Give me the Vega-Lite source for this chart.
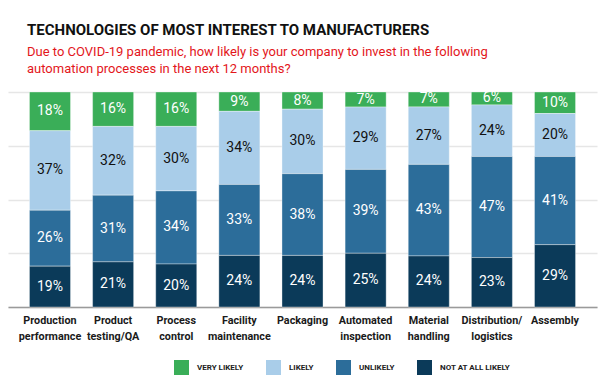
{
  "$schema": "https://vega.github.io/schema/vega-lite/v6.json",
  "autosize": {"type": "none"},
  "width": 589,
  "height": 215,
  "padding": {"left": 8, "top": 92, "right": 3, "bottom": 77},
  "background": "white",
  "title": {
    "text": "TECHNOLOGIES OF MOST INTEREST TO MANUFACTURERS",
    "subtitle": ["Due to COVID-19 pandemic, how likely is your company to invest in the following", "automation processes in the next 12 months?"],
    "anchor": "start",
    "frame": "group",
    "dx": 19,
    "offset": 15,
    "font": "Roboto",
    "fontSize": 15,
    "fontWeight": "bold",
    "color": "#111111",
    "subtitleFont": "Roboto",
    "subtitleFontSize": 13,
    "subtitleColor": "#e3161b",
    "subtitlePadding": 8,
    "subtitleLineHeight": 17
  },
  "data": {
    "values": [
      {"tech": "Production performance", "level": "Very likely", "pct": 18},
      {"tech": "Production performance", "level": "Likely", "pct": 37},
      {"tech": "Production performance", "level": "Unlikely", "pct": 26},
      {"tech": "Production performance", "level": "Not at all likely", "pct": 19},
      {"tech": "Product testing/QA", "level": "Very likely", "pct": 16},
      {"tech": "Product testing/QA", "level": "Likely", "pct": 32},
      {"tech": "Product testing/QA", "level": "Unlikely", "pct": 31},
      {"tech": "Product testing/QA", "level": "Not at all likely", "pct": 21},
      {"tech": "Process control", "level": "Very likely", "pct": 16},
      {"tech": "Process control", "level": "Likely", "pct": 30},
      {"tech": "Process control", "level": "Unlikely", "pct": 34},
      {"tech": "Process control", "level": "Not at all likely", "pct": 20},
      {"tech": "Facility maintenance", "level": "Very likely", "pct": 9},
      {"tech": "Facility maintenance", "level": "Likely", "pct": 34},
      {"tech": "Facility maintenance", "level": "Unlikely", "pct": 33},
      {"tech": "Facility maintenance", "level": "Not at all likely", "pct": 24},
      {"tech": "Packaging", "level": "Very likely", "pct": 8},
      {"tech": "Packaging", "level": "Likely", "pct": 30},
      {"tech": "Packaging", "level": "Unlikely", "pct": 38},
      {"tech": "Packaging", "level": "Not at all likely", "pct": 24},
      {"tech": "Automated inspection", "level": "Very likely", "pct": 7},
      {"tech": "Automated inspection", "level": "Likely", "pct": 29},
      {"tech": "Automated inspection", "level": "Unlikely", "pct": 39},
      {"tech": "Automated inspection", "level": "Not at all likely", "pct": 25},
      {"tech": "Material handling", "level": "Very likely", "pct": 7},
      {"tech": "Material handling", "level": "Likely", "pct": 27},
      {"tech": "Material handling", "level": "Unlikely", "pct": 43},
      {"tech": "Material handling", "level": "Not at all likely", "pct": 24},
      {"tech": "Distribution/ logistics", "level": "Very likely", "pct": 6},
      {"tech": "Distribution/ logistics", "level": "Likely", "pct": 24},
      {"tech": "Distribution/ logistics", "level": "Unlikely", "pct": 47},
      {"tech": "Distribution/ logistics", "level": "Not at all likely", "pct": 23},
      {"tech": "Assembly", "level": "Very likely", "pct": 10},
      {"tech": "Assembly", "level": "Likely", "pct": 20},
      {"tech": "Assembly", "level": "Unlikely", "pct": 41},
      {"tech": "Assembly", "level": "Not at all likely", "pct": 29}
    ]
  },
  "transform": [
    {"calculate": "indexof(['Not at all likely','Unlikely','Likely','Very likely'], datum.level)", "as": "ord"},
    {"calculate": "datum.pct + '%'", "as": "label"}
  ],
  "encoding": {
    "x": {
      "field": "tech",
      "type": "nominal",
      "sort": null,
      "title": null,
      "scale": {"paddingInner": 0.35, "paddingOuter": 0.34},
      "axis": {
        "labelAngle": 0,
        "labelExpr": "split(datum.label, ' ')",
        "labelFont": "Roboto",
        "labelFontSize": 10.8,
        "labelFontWeight": "bold",
        "labelColor": "#1a1a1a",
        "labelLineHeight": 16,
        "labelPadding": 7,
        "ticks": false,
        "domainColor": "#9a9a9a",
        "domainWidth": 1.5,
        "labelLimit": 200
      }
    },
    "y": {
      "field": "pct",
      "type": "quantitative",
      "stack": "normalize",
      "title": null,
      "scale": {"domain": [0, 1]},
      "axis": {
        "values": [0, 0.25, 0.5, 0.75, 1],
        "labels": false,
        "ticks": false,
        "domain": false,
        "gridColor": "#e6e6e6",
        "gridWidth": 1.5
      }
    },
    "order": {"field": "ord", "type": "quantitative"}
  },
  "layer": [
    {
      "mark": {"type": "bar", "stroke": "white", "strokeWidth": 0.6, "strokeOpacity": 0.6},
      "encoding": {
        "color": {
          "field": "level",
          "type": "nominal",
          "sort": ["Very likely", "Likely", "Unlikely", "Not at all likely"],
          "scale": {
            "domain": ["Very likely", "Likely", "Unlikely", "Not at all likely"],
            "range": ["#3aae58", "#a9cde9", "#2c6d9a", "#0b3a59"]
          },
          "legend": {
            "title": null,
            "orient": "none",
            "direction": "horizontal",
            "legendX": 166,
            "legendY": 268,
            "symbolType": "square",
            "symbolSize": 225,
            "symbolStrokeWidth": 0,
            "labelExpr": "upper(datum.label)",
            "labelFont": "Roboto",
            "labelFontSize": 8,
            "labelFontWeight": "bold",
            "labelColor": "#222222",
            "labelOffset": 8,
            "columnPadding": 22,
            "encode": {"labels": {"update": {"letterSpacing": {"value": 1.3}}}}
          }
        }
      }
    },
    {
      "mark": {"type": "text", "font": "Roboto", "fontSize": 14, "baseline": "middle"},
      "encoding": {
        "y": {"field": "pct", "type": "quantitative", "stack": "normalize", "bandPosition": 0.5},
        "text": {"field": "label", "type": "nominal"},
        "detail": {"field": "level"},
        "color": {
          "condition": {"test": "datum.level === 'Likely'", "value": "#111111"},
          "value": "white"
        }
      }
    }
  ],
  "config": {
    "view": {"stroke": null}
  }
}
